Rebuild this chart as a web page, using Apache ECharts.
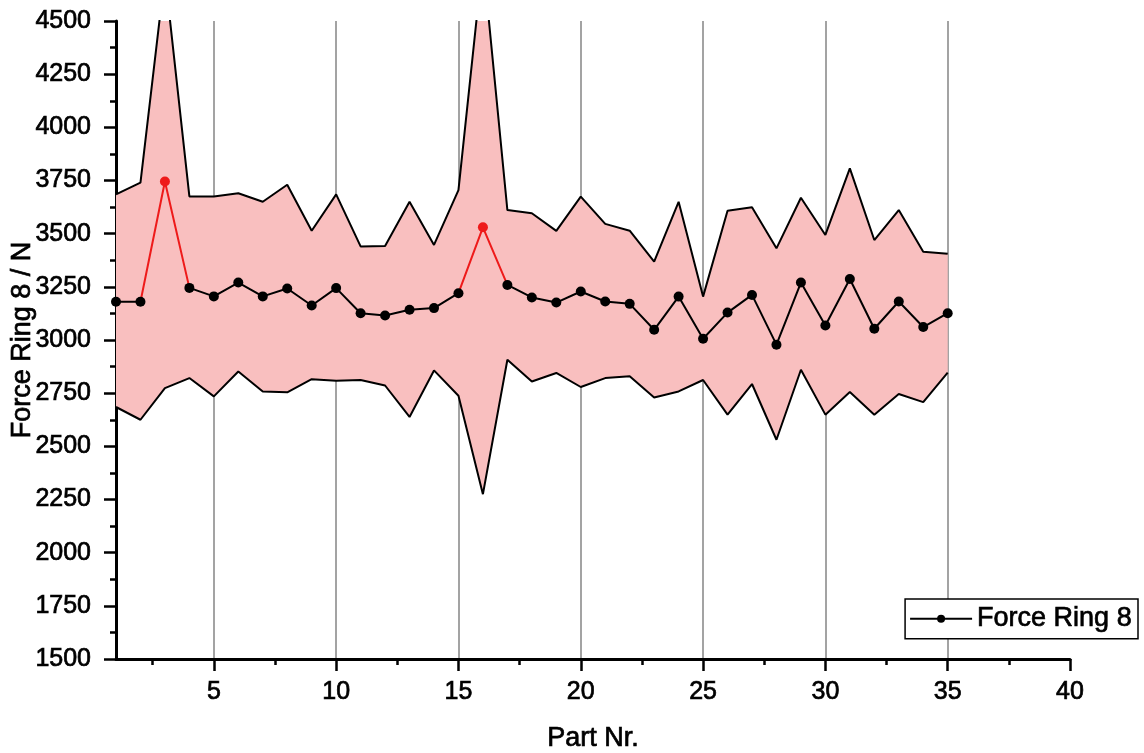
<!DOCTYPE html>
<html>
<head>
<meta charset="utf-8">
<title>Force Ring 8</title>
<script src="https://cdn.jsdelivr.net/npm/echarts@6/dist/echarts.min.js"></script>
<style>
  html, body { margin: 0; padding: 0; background: #ffffff; }
  #chart { width: 1144px; height: 753px; }
</style>
</head>
<body>
<div id="chart"></div>
<script>
// Part numbers along the x axis
const parts = [1, 2, 3, 4, 5, 6, 7, 8, 9, 10, 11, 12, 13, 14, 15, 16, 17, 18,
  19, 20, 21, 22, 23, 24, 25, 26, 27, 28, 29, 30, 31, 32, 33, 34, 35];

// Mean force per part (N)
const meanForce = [3180, 3180, 3745, 3245, 3205, 3270, 3205, 3242, 3162, 3244,
  3126, 3115, 3142, 3150, 3220, 3530, 3259, 3200, 3176, 3228, 3181, 3170, 3048,
  3204, 3006, 3129, 3212, 2978, 3270, 3068, 3287, 3053, 3181, 3061, 3126];

// Upper limit of the scatter band (N)
const upperForce = [3685, 3740, 4720, 3675, 3675, 3690, 3650, 3730, 3514, 3685,
  3440, 3442, 3650, 3447, 3705, 4790, 3611, 3596, 3513, 3674, 3546, 3514, 3369,
  3650, 3204, 3608, 3624, 3431, 3669, 3494, 3807, 3470, 3611, 3415, 3405];

// Lower limit of the scatter band (N)
const lowerForce = [2685, 2625, 2774, 2821, 2735, 2852, 2758, 2754, 2816, 2808,
  2812, 2786, 2638, 2857, 2738, 2275, 2907, 2805, 2845, 2779, 2821, 2829, 2730,
  2758, 2812, 2649, 2793, 2531, 2860, 2649, 2755, 2649, 2746, 2708, 2847];

// Parts flagged as outliers (drawn in red)
const flaggedParts = [3, 16];

// Tick positions on the x axis
const xMajorTicks = [5, 10, 15, 20, 25, 30, 35, 40];
const xMinorTicks = [2.5, 7.5, 12.5, 17.5, 22.5, 27.5, 32.5, 37.5];

const FONT = "'Liberation Sans', Arial, Helvetica, sans-serif";
const BAND_FILL = '#f9bfbf';
const RED = '#ee1a1a';

// slightly heavier glyphs than plain regular weight
const heavy = { textBorderColor: '#000000', textBorderWidth: 0.7 };
const labelText = Object.assign({ fontFamily: FONT, fontSize: 25, color: '#000000' }, heavy);
const titleText = Object.assign({ fontFamily: FONT, fontSize: 27, color: '#000000' }, heavy);

// Mean line with gaps at flagged parts, red segments through them
const meanData = parts.map((p, i) =>
  flaggedParts.includes(p) ? [p, null] : [p, meanForce[i]]);
const flaggedData = [];
flaggedParts.forEach((p, k) => {
  const i = parts.indexOf(p);
  if (k > 0) flaggedData.push([null, null]);
  for (let j = i - 1; j <= i + 1; j++) {
    if (j >= 0 && j < parts.length) flaggedData.push([parts[j], meanForce[j]]);
  }
});

const plainNumber = v => String(v);

const chart = echarts.init(document.getElementById('chart'), null, { renderer: 'canvas' });

chart.setOption({
  backgroundColor: '#ffffff',
  animation: false,
  textStyle: { fontFamily: FONT },
  grid: { left: 116, right: 74, top: 21, bottom: 94, containLabel: false, outerBoundsMode: 'none' },
  legend: {
    data: ['Force Ring 8'],
    right: 6,
    top: 599,
    orient: 'horizontal',
    backgroundColor: '#ffffff',
    borderColor: '#000000',
    borderWidth: 1.5,
    borderRadius: 0,
    padding: [6, 6, 6, 4],
    itemWidth: 62,
    itemHeight: 10,
    textStyle: titleText
  },
  xAxis: [
    {
      type: 'value',
      min: 1,
      max: 40,
      name: 'Part Nr.',
      nameLocation: 'middle',
      nameGap: 66,
      nameMoveOverlap: false,
      nameTextStyle: titleText,
      axisLine: { show: true, onZero: false, lineStyle: { color: '#000000', width: 3 } },
      axisTick: { show: true, customValues: xMajorTicks, length: 12, lineStyle: { color: '#000000', width: 2.5 } },
      axisLabel: Object.assign({ show: true, customValues: xMajorTicks, formatter: plainNumber, margin: 21 }, labelText),
      splitLine: { show: true, showMinLine: true, showMaxLine: false, lineStyle: { color: '#858585', width: 1.5 } }
    },
    {
      type: 'value',
      min: 1,
      max: 40,
      position: 'bottom',
      axisLine: { show: false, onZero: false },
      axisTick: { show: true, customValues: xMinorTicks, length: 6, lineStyle: { color: '#000000', width: 2.5 } },
      axisLabel: { show: false },
      splitLine: { show: false }
    }
  ],
  yAxis: {
    type: 'value',
    min: 1500,
    max: 4500,
    interval: 250,
    name: 'Force Ring 8 / N',
    nameLocation: 'middle',
    nameGap: 80,
    nameMoveOverlap: false,
    nameTextStyle: titleText,
    axisLine: { show: true, onZero: false, lineStyle: { color: '#000000', width: 3 } },
    axisTick: { show: true, length: 12, lineStyle: { color: '#000000', width: 2.5 } },
    minorTick: { show: true, splitNumber: 2, length: 6, lineStyle: { color: '#000000', width: 2.5 } },
    axisLabel: Object.assign({ formatter: plainNumber, margin: 25 }, labelText),
    splitLine: { show: false }
  },
  series: [
    {
      // filled band between lower and upper limits
      name: 'band',
      type: 'custom',
      z: 1,
      silent: true,
      data: parts.map((p, i) => [p, lowerForce[i], upperForce[i]]),
      encode: { x: 0, y: [1, 2] },
      renderItem: function (params, api) {
        if (params.dataIndex !== 0) return null;
        const pts = [];
        for (let i = 0; i < parts.length; i++) pts.push(api.coord([parts[i], upperForce[i]]));
        for (let i = parts.length - 1; i >= 0; i--) pts.push(api.coord([parts[i], lowerForce[i]]));
        const cs = params.coordSys;
        return {
          type: 'group',
          clipPath: { type: 'rect', shape: { x: cs.x, y: cs.y, width: cs.width, height: cs.height } },
          children: [{
            type: 'polygon',
            shape: { points: pts },
            style: { fill: BAND_FILL, stroke: null }
          }]
        };
      }
    },
    {
      name: 'upper',
      type: 'line',
      z: 2,
      silent: true,
      symbol: 'none',
      clip: true,
      data: parts.map((p, i) => [p, upperForce[i]]),
      lineStyle: { color: '#000000', width: 2 }
    },
    {
      name: 'lower',
      type: 'line',
      z: 2,
      silent: true,
      symbol: 'none',
      clip: true,
      data: parts.map((p, i) => [p, lowerForce[i]]),
      lineStyle: { color: '#000000', width: 2 }
    },
    {
      name: 'flagged',
      type: 'line',
      z: 3,
      silent: true,
      symbol: 'circle',
      symbolSize: function (val) { return flaggedParts.includes(val[0]) ? 10 : 0; },
      connectNulls: false,
      data: flaggedData,
      lineStyle: { color: RED, width: 2 },
      itemStyle: { color: RED }
    },
    {
      name: 'Force Ring 8',
      type: 'line',
      z: 4,
      symbol: 'circle',
      symbolSize: 10,
      showSymbol: true,
      connectNulls: false,
      data: meanData,
      lineStyle: { color: '#000000', width: 2 },
      itemStyle: { color: '#000000' }
    }
  ]
});
</script>
</body>
</html>
